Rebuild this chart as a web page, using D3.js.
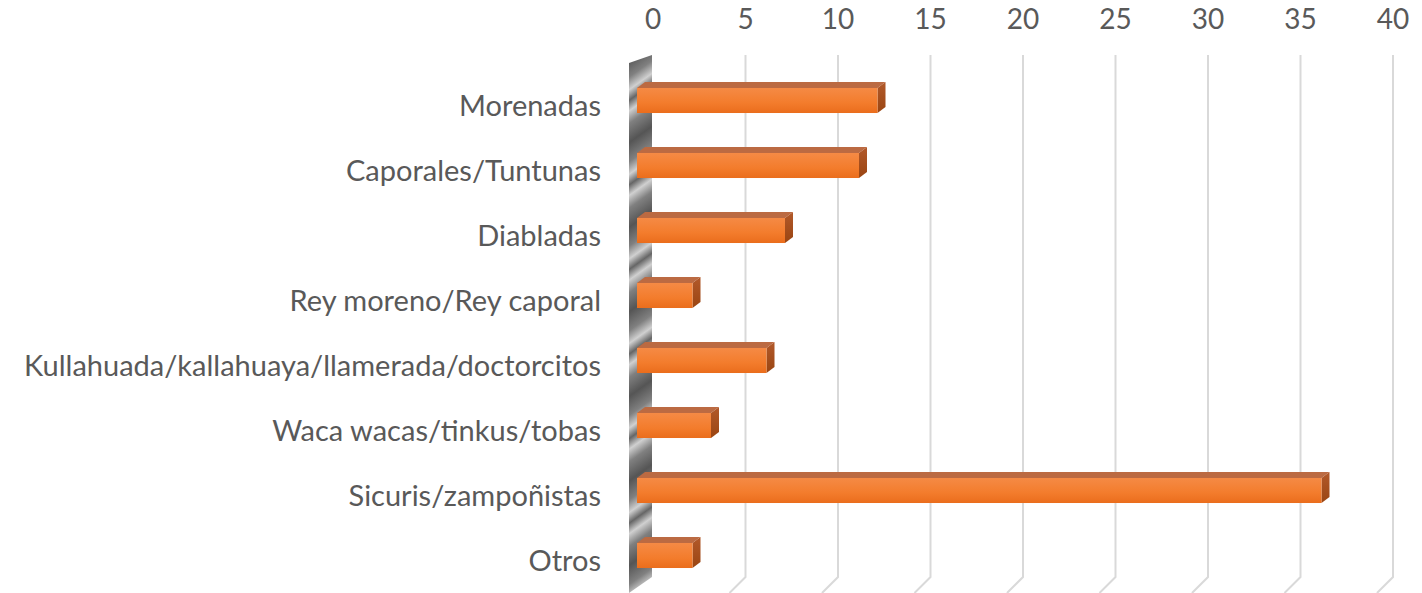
<!DOCTYPE html>
<html>
<head>
<meta charset="utf-8">
<script src="https://cdnjs.cloudflare.com/ajax/libs/d3/7.8.5/d3.min.js"></script>
<style>
  body { margin: 0; background: #fff; }
  text { font-family: Lato, "Noto Sans", sans-serif; fill: #595959; }
</style>
</head>
<body>
<script>
const width = 1422;
const height = 593;

// data
const categories = ["Morenadas", "Caporales/Tuntunas", "Diabladas", "Rey moreno/Rey caporal",
  "Kullahuada/kallahuaya/llamerada/doctorcitos", "Waca wacas/tinkus/tobas",
  "Sicuris/zampoñistas", "Otros"];
const values = [13, 12, 8, 3, 7, 4, 37, 3];
const ticks = [0, 5, 10, 15, 20, 25, 30, 35, 40];

// 3d offsets
const depthX = 16, depthY = 16;   // floor depth
const barDx = 8, barDy = 6;       // bar depth

let svg = d3.select("body")
  .append("svg")
    .attr("width", width)
    .attr("height", height);

let defs = svg.append("defs");

let g1 = defs.append("linearGradient").attr("id", "front")
  .attr("x1", 0).attr("y1", 0).attr("x2", 0).attr("y2", 1);
g1.append("stop").attr("offset", "0%").attr("stop-color", "#f58a45");
g1.append("stop").attr("offset", "60%").attr("stop-color", "#f37c2c");
g1.append("stop").attr("offset", "100%").attr("stop-color", "#ea6d1c");

let g2 = defs.append("linearGradient").attr("id", "side")
  .attr("x1", 0).attr("y1", 0).attr("x2", 0).attr("y2", 1);
g2.append("stop").attr("offset", "0%").attr("stop-color", "#b2592a");
g2.append("stop").attr("offset", "100%").attr("stop-color", "#9a4512");

let g3 = defs.append("linearGradient").attr("id", "wall")
  .attr("gradientUnits", "userSpaceOnUse")
  .attr("x1", 0).attr("y1", 0).attr("x2", 20).attr("y2", 28)
  .attr("spreadMethod", "reflect");
g3.append("stop").attr("offset", "0%").attr("stop-color", "#555555");
g3.append("stop").attr("offset", "45%").attr("stop-color", "#808080");
g3.append("stop").attr("offset", "75%").attr("stop-color", "#d0d0d0");
g3.append("stop").attr("offset", "100%").attr("stop-color", "#666666");

// front plane scale, back wall is shifted by depthX
let x = d3.scaleLinear().domain([0, 40]).range([637, 1377]);
let xBack = v => x(v) + depthX;

let y = d3.scaleBand()
  .domain(categories)
  .range([68, 588])
  .paddingInner(0.615)
  .paddingOuter(0.3075);

const wallTop = 55, wallBottom = height - depthY;

// gridlines on back wall + floor edge
svg.append("g")
  .selectAll("polyline")
  .data(ticks.slice(1))
  .enter()
  .append("polyline")
    .attr("points", d => [[xBack(d), wallTop], [xBack(d), wallBottom], [x(d), height]].join(" "))
    .attr("fill", "none")
    .attr("stroke", "#d9d9d9")
    .attr("stroke-width", 2);

// left side wall
svg.append("polygon")
  .attr("points", [[x(0) - 8, wallTop + 8], [xBack(0) - 1, wallTop], [xBack(0) - 1, wallBottom], [x(0) - 8, height]].join(" "))
  .attr("fill", "url(#wall)");

// tick labels on top
svg.append("g")
  .selectAll("text")
  .data(ticks)
  .enter()
  .append("text")
    .attr("x", d => xBack(d))
    .attr("y", 22)
    .attr("text-anchor", "middle")
    .attr("dominant-baseline", "middle")
    .style("font-size", "28px")
    .text(d => d);

// category labels
svg.append("g")
  .selectAll("text")
  .data(categories)
  .enter()
  .append("text")
    .attr("x", 601)
    .attr("y", d => y(d) + y.bandwidth() / 2 + 8)
    .attr("text-anchor", "end")
    .attr("dominant-baseline", "middle")
    .style("font-size", "29px")
    .text(d => d);

// bars
let bars = svg.append("g")
  .selectAll("g")
  .data(categories.map((c, i) => ({ cat: c, value: values[i] })))
  .enter()
  .append("g");

bars.append("polygon")
  .attr("points", d => {
    let y0 = y(d.cat), x0 = x(0), x1 = x(d.value);
    return [[x0, y0], [x0 + barDx, y0 - barDy], [x1 + barDx, y0 - barDy], [x1, y0]].join(" ");
  })
  .attr("fill", "#bb6a42");

bars.append("polygon")
  .attr("points", d => {
    let y0 = y(d.cat), y1 = y0 + y.bandwidth(), x1 = x(d.value);
    return [[x1, y0], [x1 + barDx, y0 - barDy], [x1 + barDx, y1 - barDy], [x1, y1]].join(" ");
  })
  .attr("fill", "url(#side)");

bars.append("rect")
  .attr("x", x(0))
  .attr("y", d => y(d.cat))
  .attr("width", d => x(d.value) - x(0))
  .attr("height", y.bandwidth())
  .attr("fill", "url(#front)");
</script>
</body>
</html>
